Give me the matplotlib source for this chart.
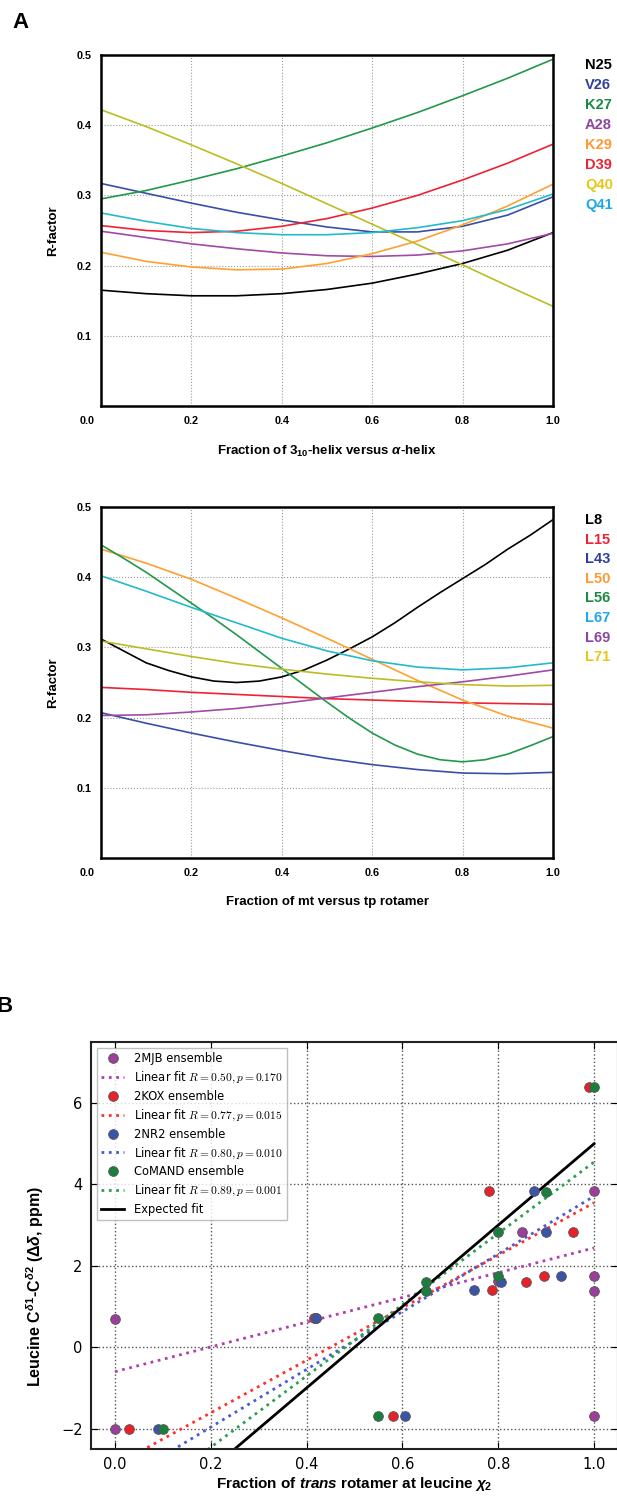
import numpy as np
import matplotlib
matplotlib.use('Agg')
import matplotlib.pyplot as plt
from matplotlib.font_manager import FontProperties
from matplotlib.transforms import ScaledTranslation

# math in labels uses the same bold sans as the labels themselves
plt.rcParams['mathtext.fontset'] = 'custom'
plt.rcParams['mathtext.rm'] = 'Liberation Sans:bold'
plt.rcParams['mathtext.it'] = 'Liberation Sans:italic:bold'
plt.rcParams['mathtext.bf'] = 'Liberation Sans:bold'

# ---- panel A (top): 3_10-helix vs alpha-helix scan ----
helix_frac = [0.0, 0.1, 0.2, 0.3, 0.4, 0.5, 0.6, 0.7, 0.8, 0.9, 1.0]
r_n25 = [0.165, 0.160, 0.157, 0.157, 0.160, 0.166, 0.175, 0.188, 0.203, 0.222, 0.247]
r_v26 = [0.317, 0.303, 0.289, 0.276, 0.265, 0.255, 0.248, 0.248, 0.256, 0.272, 0.298]
r_k27 = [0.295, 0.307, 0.322, 0.338, 0.356, 0.375, 0.396, 0.418, 0.442, 0.467, 0.494]
r_a28 = [0.249, 0.240, 0.231, 0.224, 0.218, 0.214, 0.213, 0.215, 0.221, 0.231, 0.246]
r_k29 = [0.219, 0.206, 0.198, 0.194, 0.195, 0.203, 0.217, 0.235, 0.258, 0.285, 0.316]
r_d39 = [0.257, 0.250, 0.247, 0.249, 0.256, 0.267, 0.282, 0.300, 0.322, 0.346, 0.373]
r_q40 = [0.422, 0.398, 0.372, 0.345, 0.317, 0.288, 0.259, 0.230, 0.201, 0.171, 0.142]
r_q41 = [0.275, 0.263, 0.253, 0.247, 0.244, 0.244, 0.247, 0.254, 0.264, 0.280, 0.302]
helix_names = ['N25', 'V26', 'K27', 'A28', 'K29', 'D39', 'Q40', 'Q41']

# ---- panel A (bottom): mt vs tp rotamer scan ----
rot_frac = [0.0, 0.1, 0.2, 0.3, 0.4, 0.5, 0.6, 0.7, 0.8, 0.9, 1.0]
rot_frac_fine = [0.0, 0.05, 0.1, 0.15, 0.2, 0.25, 0.3, 0.35, 0.4, 0.45, 0.5,
                 0.55, 0.6, 0.65, 0.7, 0.75, 0.8, 0.85, 0.9, 0.95, 1.0]
r_l8 = [0.312, 0.295, 0.278, 0.267, 0.258, 0.252, 0.250, 0.252, 0.258, 0.268, 0.282,
        0.298, 0.315, 0.335, 0.357, 0.378, 0.398, 0.418, 0.440, 0.460, 0.482]
r_l15 = [0.243, 0.240, 0.236, 0.233, 0.230, 0.227, 0.225, 0.223, 0.221, 0.220, 0.219]
r_l43 = [0.207, 0.192, 0.178, 0.165, 0.153, 0.142, 0.133, 0.126, 0.121, 0.120, 0.122]
r_l50 = [0.440, 0.420, 0.397, 0.370, 0.342, 0.313, 0.283, 0.253, 0.225, 0.202, 0.185]
r_l56 = [0.446, 0.427, 0.407, 0.385, 0.363, 0.341, 0.318, 0.294, 0.270, 0.246, 0.222,
         0.199, 0.178, 0.161, 0.148, 0.140, 0.137, 0.140, 0.148, 0.160, 0.173]
r_l67 = [0.402, 0.380, 0.357, 0.335, 0.313, 0.295, 0.281, 0.272, 0.268, 0.271, 0.278]
r_l69 = [0.203, 0.204, 0.208, 0.213, 0.220, 0.228, 0.236, 0.244, 0.251, 0.259, 0.268]
r_l71 = [0.309, 0.298, 0.287, 0.277, 0.269, 0.262, 0.256, 0.251, 0.247, 0.245, 0.246]
rot_names = ['L8', 'L15', 'L43', 'L50', 'L56', 'L67', 'L69', 'L71']

# ---- panel B: leucine delta shift vs trans fraction ----
mjb_x = [0.0, 0.0, 0.42, 0.80, 0.85, 1.0, 1.0, 1.0, 1.0]
mjb_y = [0.70, -2.0, 0.71, 1.62, 2.83, 3.83, 1.75, 1.38, -1.70]
kox_x = [0.03, 0.415, 0.58, 0.78, 0.787, 0.857, 0.896, 0.957, 0.99]
kox_y = [-2.0, 0.71, -1.70, 3.83, 1.40, 1.61, 1.75, 2.83, 6.39]
nr2_x = [0.09, 0.42, 0.605, 0.75, 0.806, 0.875, 0.90, 0.93]
nr2_y = [-2.0, 0.71, -1.70, 1.40, 1.61, 3.83, 2.83, 1.75]
comand_x = [0.10, 0.55, 0.55, 0.65, 0.65, 0.80, 0.80, 0.90, 1.0]
comand_y = [-2.0, -1.70, 0.71, 1.61, 1.38, 2.83, 1.75, 3.82, 6.39]

fit_x = [0.0, 1.0]
mjb_fit = [-0.60, 2.44]
kox_fit = [-2.90, 3.55]
nr2_fit = [-3.38, 3.71]
comand_fit = [-4.21, 4.55]
expected_fit = [-5.0, 5.0]

W, H = 617, 1497
fig = plt.figure(figsize=(W / 100, H / 100), dpi=100)


def px_box(left, top, right, bottom):
    return [left / W, 1 - bottom / H, (right - left) / W, (bottom - top) / H]


ax1 = fig.add_axes(px_box(101, 55, 553, 406))
ax2 = fig.add_axes(px_box(101, 507, 553, 858))
ax3 = fig.add_axes(px_box(91, 1042, 618, 1449))

bold_font = dict(family='Liberation Sans', fontweight='bold')


def style_rfactor(ax, xlabel):
    ax.set_xlim(0, 1)
    ax.set_ylim(0, 0.5)
    ax.set_xticks([0.0, 0.2, 0.4, 0.6, 0.8, 1.0])
    ax.set_yticks([0.1, 0.2, 0.3, 0.4, 0.5])
    ax.grid(True, ls=':', color='#9a9a9a', lw=0.8)
    for s in ax.spines.values():
        s.set_linewidth(1.8)
    ax.tick_params(direction='in', length=0, pad=7)
    for lab in ax.get_xticklabels() + ax.get_yticklabels():
        lab.set_fontfamily('Liberation Sans')
        lab.set_fontweight('bold')
        lab.set_fontsize(7.8)
    # first x label sits left of the corner
    first = ax.get_xticklabels()[0]
    first.set_transform(first.get_transform() + ScaledTranslation(-0.14, 0, fig.dpi_scale_trans))
    ax.set_ylabel('R-factor', fontsize=9.5, labelpad=12, **bold_font)
    ax.set_xlabel(xlabel, fontsize=9.5, labelpad=13, **bold_font)


# top scan
top_series = [r_n25, r_v26, r_k27, r_a28, r_k29, r_d39, r_q40, r_q41]
top_line_colors = ['#000000', '#3a4ea8', '#22994a', '#a04aa8', '#ffa030', '#ee2233', '#bcbd22', '#22bbcc']
top_text_colors = ['#000000', '#2e3f9e', '#1a8a44', '#8e44a0', '#ff9933', '#ee2233', '#e6c619', '#1ea8e8']
for vals, c in zip(top_series, top_line_colors):
    ax1.plot(helix_frac, vals, color=c, lw=1.2)
style_rfactor(ax1, r'Fraction of 3$_{10}$-helix versus $\alpha$-helix')
for i, (name, c) in enumerate(zip(helix_names, top_text_colors)):
    ax1.text(1.071, 0.9715 - i * 0.057, name, transform=ax1.transAxes, color=c,
             fontsize=10.5, va='center', ha='left', **bold_font)

# bottom scan
bot_series = [(rot_frac_fine, r_l8), (rot_frac, r_l15), (rot_frac, r_l43), (rot_frac, r_l50),
              (rot_frac_fine, r_l56), (rot_frac, r_l67), (rot_frac, r_l69), (rot_frac, r_l71)]
bot_line_colors = ['#000000', '#ee2233', '#3a4ea8', '#ffa030', '#22994a', '#22bbcc', '#a04aa8', '#bcbd22']
bot_text_colors = ['#000000', '#ee2233', '#2e3f9e', '#ff9933', '#1a8a44', '#1ea8e8', '#8e44a0', '#e6c619']
for (xs, vals), c in zip(bot_series, bot_line_colors):
    ax2.plot(xs, vals, color=c, lw=1.2)
style_rfactor(ax2, 'Fraction of mt versus tp rotamer')
for i, (name, c) in enumerate(zip(rot_names, bot_text_colors)):
    ax2.text(1.071, 0.963 - i * 0.0558, name, transform=ax2.transAxes, color=c,
             fontsize=10.5, va='center', ha='left', **bold_font)

# panel B scatter + fits
ens = [
    (mjb_x, mjb_y, mjb_fit, '#9b3f9b', '#b040b0', '2MJB ensemble', r'Linear fit $R=0.50,p=0.170$'),
    (kox_x, kox_y, kox_fit, '#e8202a', '#ff3030', '2KOX ensemble', r'Linear fit $R=0.77,p=0.015$'),
    (nr2_x, nr2_y, nr2_fit, '#3a55a8', '#4a5ad0', '2NR2 ensemble', r'Linear fit $R=0.80,p=0.010$'),
    (comand_x, comand_y, comand_fit, '#1a7f3c', '#2aa050', 'CoMAND ensemble', r'Linear fit $R=0.89,p=0.001$'),
]
for xs, ys, fit, mc, lc, lab, fitlab in ens:
    ax3.plot(xs, ys, 'o', ms=7, mfc=mc, mec='#555555', mew=0.6, label=lab, zorder=3)
    ax3.plot(fit_x, fit, ':', color=lc, lw=2, label=fitlab, zorder=2)
ax3.plot(fit_x, expected_fit, '-', color='k', lw=2, label='Expected fit', zorder=2)

ax3.set_xlim(-0.05, 1.05)
ax3.set_ylim(-2.5, 7.5)
ax3.set_xticks([0.0, 0.2, 0.4, 0.6, 0.8, 1.0])
ax3.set_yticks([-2, 0, 2, 4, 6])
ax3.grid(True, ls=':', color='#555555', lw=1)
ax3.tick_params(direction='in', length=5, top=True, right=True, labelsize=10.5, pad=6)
for s in ax3.spines.values():
    s.set_linewidth(1.5)
    s.set_color('#222222')
ax3.set_xlabel(r'Fraction of $\mathit{trans}$ rotamer at leucine $\chi_2$',
               fontsize=11, labelpad=2, **bold_font)
ax3.set_ylabel(r'Leucine C$^{\delta1}$-C$^{\delta2}$ ($\Delta\delta$, ppm)',
               fontsize=11.5, **bold_font)
ax3.yaxis.set_label_coords(-0.085, 0.4)
leg = ax3.legend(loc='upper left', numpoints=1, handlelength=2.0, fancybox=False,
                 prop=FontProperties(family='DejaVu Sans', size=8.3, math_fontfamily='cm'),
                 labelspacing=0.4, borderaxespad=0.5)
leg.get_frame().set_edgecolor('#b0b0b0')

fig.text(12 / W, 1 - 22 / H, 'A', fontsize=16, va='center', ha='left', **bold_font)
fig.text(-4 / W, 1 - 1007 / H, 'B', fontsize=16, va='center', ha='left', **bold_font)

fig.savefig('out.png', dpi=100)
